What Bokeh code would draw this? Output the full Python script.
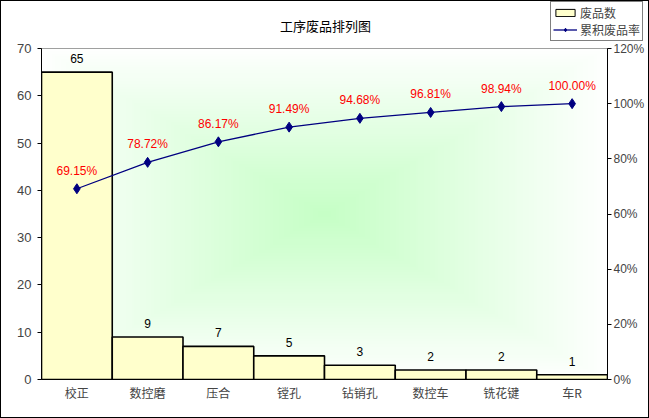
import numpy as np
from bokeh.plotting import figure
from bokeh.layouts import column
from bokeh.core.properties import value
from bokeh.models import (Range1d, LinearAxis, NumeralTickFormatter, FixedTicker,
                          LabelSet, Label, ColumnDataSource, Legend, LegendItem)
from bokeh.embed import file_html
from bokeh.resources import INLINE

# ---- data ----
categories = ["校正", "数控磨", "压合", "镗孔", "钻销孔", "数控车", "铣花键", "车R"]
counts = [65, 9, 7, 5, 3, 2, 2, 1]
cum_pct = [69.15, 78.72, 86.17, 91.49, 94.68, 96.81, 98.94, 100.00]
count_ticks = [0, 10, 20, 30, 40, 50, 60, 70]
pct_ticks = [0, 0.2, 0.4, 0.6, 0.8, 1.0, 1.2]
title_text = "工序废品排列图"
legend_labels = ["废品数", "累积废品率"]

CJK = "Noto Sans CJK SC"
LAT = "Liberation Sans"
BAR_FILL = "#FFFFCC"
LINE_COL = "#000080"

W = 647
HEAD_H = 40

src = ColumnDataSource(dict(
    cat=categories,
    cnt=counts,
    cnt_lbl=[str(c) for c in counts],
    frac=[v / 100 for v in cum_pct],
    pct_lbl=["%.2f%%" % v for v in cum_pct],
))

# ---------- header: title + legend ----------
head = figure(width=W, height=HEAD_H, x_range=Range1d(0, 1), y_range=Range1d(0, 1),
              x_axis_type=None, y_axis_type=None, output_backend="svg",
              toolbar_location=None, min_border=0)
head.frame_align = False
head.outline_line_color = None
# legend-only proxy renderers, kept outside the visible header range
hb = head.vbar(x=[-5], top=[-5], width=1, fill_color=BAR_FILL, line_color="black", line_width=1)
hl = head.line(x=[-5, -4], y=[-5, -5], line_color=LINE_COL, line_width=1.3)
hm = head.scatter(x=[-5], y=[-5], marker="diamond", size=8, fill_color=LINE_COL, line_color=LINE_COL)

head.add_layout(Label(x=324, y=16, x_units="screen", y_units="screen", text=title_text,
                      text_align="center", text_baseline="middle",
                      text_font=CJK, text_font_size="13px", text_color="black"))

legend = Legend(items=[LegendItem(label=legend_labels[0], renderers=[hb]),
                       LegendItem(label=legend_labels[1], renderers=[hl, hm])],
                location=(549, 0), orientation="vertical",
                border_line_color="black", border_line_width=1,
                background_fill_color="white", background_fill_alpha=1,
                label_text_font=CJK, label_text_font_size="12px",
                glyph_width=24, glyph_height=9, padding=2, spacing=0,
                margin=0, label_standoff=3, label_height=14)
head.add_layout(legend, "center")

# ---------- main chart ----------
p = figure(x_range=categories, y_range=Range1d(0, 70), width=W, height=416 - HEAD_H,
           output_backend="svg", toolbar_location=None,
           min_border_left=40, min_border_right=41, min_border_top=7, min_border_bottom=38)
p.extra_y_ranges = {"pct": Range1d(0, 1.2)}

# background gradient (rectangular, from centre)
ny, nx = 120, 200
yy, xx = np.mgrid[0:ny, 0:nx]
u = np.abs((xx + 0.5) / nx * 2 - 1)
v = np.abs((yy + 0.5) / ny * 2 - 1)
t = np.maximum(u, v)
r = (198 + (255 - 198) * t).astype(np.uint32)
g = np.full_like(r, 255)
b = (198 + (255 - 198) * t).astype(np.uint32)
img = (np.uint32(255) << np.uint32(24)) | (b << np.uint32(16)) | (g << np.uint32(8)) | r
p.image_rgba(image=[img.astype(np.uint32)], x=0, y=0, dw=len(categories), dh=70)

bars = p.vbar(x="cat", top="cnt", width=1.0, source=src,
              fill_color=BAR_FILL, line_color="black", line_width=1.6)
ln = p.line(x="cat", y="frac", source=src, y_range_name="pct",
            line_color=LINE_COL, line_width=1.3)
mk = p.scatter(x="cat", y="frac", source=src, y_range_name="pct",
               marker="diamond", size=10, fill_color=LINE_COL, line_color=LINE_COL)

p.add_layout(LabelSet(x="cat", y="cnt", text="cnt_lbl", source=src,
                      text_align="center", text_baseline="bottom", y_offset=9,
                      text_font=value(LAT), text_font_size="12px", text_color="black"))
p.add_layout(LabelSet(x="cat", y="frac", text="pct_lbl", source=src, y_range_name="pct",
                      text_align="center", text_baseline="bottom", y_offset=11,
                      text_font=value(LAT), text_font_size="12px", text_color="red"))

p.xgrid.grid_line_color = None
p.ygrid.grid_line_color = None
p.outline_line_color = "#808080"

ya = p.yaxis[0]
ya.ticker = FixedTicker(ticks=count_ticks)
ya.major_tick_out = 4
ya.major_tick_in = 0
ya.minor_tick_line_color = None
ya.axis_line_color = "black"
ya.major_label_text_font = LAT
ya.major_label_text_font_size = "13px"
ya.major_label_standoff = 6

xa = p.xaxis[0]
xa.major_tick_line_color = None
xa.major_tick_out = 0
xa.major_tick_in = 0
xa.axis_line_color = "black"
xa.major_label_text_font = CJK
xa.major_label_text_font_size = "12px"
xa.major_label_standoff = 4

ra = LinearAxis(y_range_name="pct", ticker=FixedTicker(ticks=pct_ticks),
                formatter=NumeralTickFormatter(format="0%"))
ra.major_tick_out = 4
ra.major_tick_in = 0
ra.minor_tick_line_color = None
ra.axis_line_color = "black"
ra.major_label_text_font = LAT
ra.major_label_text_font_size = "12px"
ra.major_label_standoff = 2
p.add_layout(ra, "right")

page = column(head, p, spacing=0)
page.styles = {"border": "1px solid black"}

open("out.html", "w").write(file_html(page, INLINE))
